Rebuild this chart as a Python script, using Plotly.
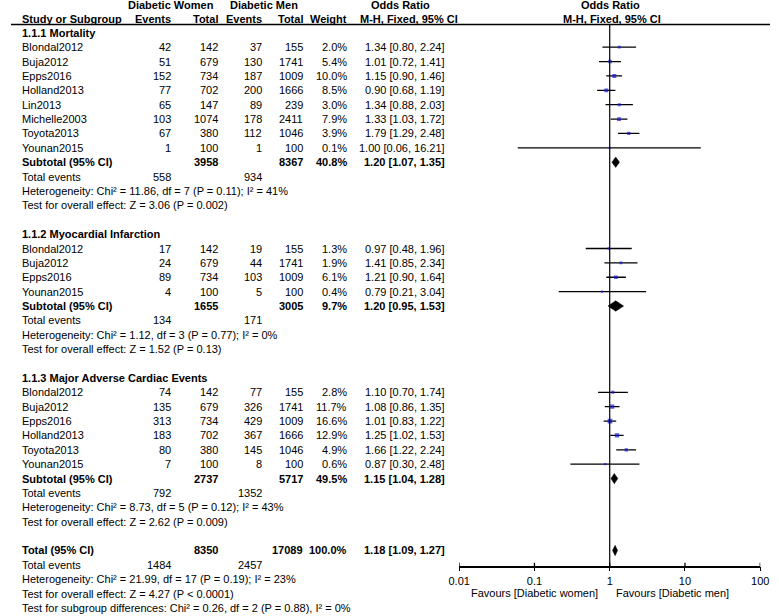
import math
import plotly.graph_objects as go

W, H = 779, 616

# ---------------- data ----------------
mort_study = ["Blondal2012", "Buja2012", "Epps2016", "Holland2013", "Lin2013", "Michelle2003", "Toyota2013", "Younan2015"]
mort_w_events = [42, 51, 152, 77, 65, 103, 67, 1]
mort_w_total = [142, 679, 734, 702, 147, 1074, 380, 100]
mort_m_events = [37, 130, 187, 200, 89, 178, 112, 1]
mort_m_total = [155, 1741, 1009, 1666, 239, 2411, 1046, 100]
mort_weight = [2.0, 5.4, 10.0, 8.5, 3.0, 7.9, 3.9, 0.1]
mort_or = [1.34, 1.01, 1.15, 0.90, 1.34, 1.33, 1.79, 1.00]
mort_lo = [0.80, 0.72, 0.90, 0.68, 0.88, 1.03, 1.29, 0.06]
mort_hi = [2.24, 1.41, 1.46, 1.19, 2.03, 1.72, 2.48, 16.21]
mort_sub = {"w_total": 3958, "m_total": 8367, "weight": 40.8, "or": 1.20, "lo": 1.07, "hi": 1.35,
            "w_ev": 558, "m_ev": 934}
mort_het = "Heterogeneity: Chi² = 11.86, df = 7 (P = 0.11); I² = 41%"
mort_test = "Test for overall effect: Z = 3.06 (P = 0.002)"

mi_study = ["Blondal2012", "Buja2012", "Epps2016", "Younan2015"]
mi_w_events = [17, 24, 89, 4]
mi_w_total = [142, 679, 734, 100]
mi_m_events = [19, 44, 103, 5]
mi_m_total = [155, 1741, 1009, 100]
mi_weight = [1.3, 1.9, 6.1, 0.4]
mi_or = [0.97, 1.41, 1.21, 0.79]
mi_lo = [0.48, 0.85, 0.90, 0.21]
mi_hi = [1.96, 2.34, 1.64, 3.04]
mi_sub = {"w_total": 1655, "m_total": 3005, "weight": 9.7, "or": 1.20, "lo": 0.95, "hi": 1.53,
          "w_ev": 134, "m_ev": 171}
mi_het = "Heterogeneity: Chi² = 1.12, df = 3 (P = 0.77); I² = 0%"
mi_test = "Test for overall effect: Z = 1.52 (P = 0.13)"

mace_study = ["Blondal2012", "Buja2012", "Epps2016", "Holland2013", "Toyota2013", "Younan2015"]
mace_w_events = [74, 135, 313, 183, 80, 7]
mace_w_total = [142, 679, 734, 702, 380, 100]
mace_m_events = [77, 326, 429, 367, 145, 8]
mace_m_total = [155, 1741, 1009, 1666, 1046, 100]
mace_weight = [2.8, 11.7, 16.6, 12.9, 4.9, 0.6]
mace_or = [1.10, 1.08, 1.01, 1.25, 1.66, 0.87]
mace_lo = [0.70, 0.86, 0.83, 1.02, 1.22, 0.30]
mace_hi = [1.74, 1.35, 1.22, 1.53, 2.24, 2.48]
mace_sub = {"w_total": 2737, "m_total": 5717, "weight": 49.5, "or": 1.15, "lo": 1.04, "hi": 1.28,
            "w_ev": 792, "m_ev": 1352}
mace_het = "Heterogeneity: Chi² = 8.73, df = 5 (P = 0.12); I² = 43%"
mace_test = "Test for overall effect: Z = 2.62 (P = 0.009)"

total = {"w_total": 8350, "m_total": 17089, "weight": 100.0, "or": 1.18, "lo": 1.09, "hi": 1.27,
         "w_ev": 1484, "m_ev": 2457}
total_het = "Heterogeneity: Chi² = 21.99, df = 17 (P = 0.19); I² = 23%"
total_test = "Test for overall effect: Z = 4.27 (P < 0.0001)"
subgroup_test = "Test for subgroup differences: Chi² = 0.26, df = 2 (P = 0.88), I² = 0%"

tick_vals = [0.01, 0.1, 1, 10, 100]
tick_text = ["0.01", "0.1", "1", "10", "100"]

sections = [
    ("1.1.1 Mortality", mort_study, mort_w_events, mort_w_total, mort_m_events, mort_m_total,
     mort_weight, mort_or, mort_lo, mort_hi, mort_sub, mort_het, mort_test),
    ("1.1.2 Myocardial Infarction", mi_study, mi_w_events, mi_w_total, mi_m_events, mi_m_total,
     mi_weight, mi_or, mi_lo, mi_hi, mi_sub, mi_het, mi_test),
    ("1.1.3 Major Adverse Cardiac Events", mace_study, mace_w_events, mace_w_total, mace_m_events,
     mace_m_total, mace_weight, mace_or, mace_lo, mace_hi, mace_sub, mace_het, mace_test),
]

# ---------------- layout constants ----------------
Y0, ROW = 32.8, 14.38          # pixel y of row 0, row pitch
FONT = "Liberation Sans, Arial, Helvetica, sans-serif"
FS = 11
NAME_X, WE_X, WT_X, ME_X, MT_X, WGT_X, OR_X = 9, 166, 215, 260, 302, 347, 448
BLUE = "#1414D8"

def r_of_px(px):
    return (px - Y0) / ROW

annotations = []

def txt(xpx, r, s, anchor="right", bold=False, size=FS):
    annotations.append(dict(
        x=xpx / W, xref="paper", y=r, yref="y", text=("<b>%s</b>" % s) if bold else s,
        showarrow=False, xanchor=anchor, yanchor="middle",
        font=dict(family=FONT, size=size, color="#000"), align=anchor))

def fmt_or(o, lo, hi):
    return "%.2f [%.2f, %.2f]" % (o, lo, hi)

# headers
rh1, rh2 = r_of_px(4.8), r_of_px(18.5)
txt(164, rh1, "Diabetic Women", "center", True)
txt(260, rh1, "Diabetic Men", "center", True)
txt(400, rh1, "Odds Ratio", "center", True)
txt(615, rh1, "Odds Ratio", "center", True)
txt(NAME_X, rh2, "Study or Subgroup", "left", True)
txt(WE_X, rh2, "Events", "right", True)
txt(WT_X, rh2, "Total", "right", True)
txt(ME_X, rh2, "Events", "right", True)
txt(MT_X, rh2, "Total", "right", True)
txt(WGT_X, rh2, "Weight", "right", True)
txt(408, rh2, "M-H, Fixed, 95% CI", "center", True)
txt(617, rh2, "M-H, Fixed, 95% CI", "center", True)

ci_x, ci_y = [], []
sq_x, sq_y, sq_s = [], [], []
diamonds = []

r = 0
for (title, st, we, wt, me, mt, wg, o, lo, hi, sub, het, test) in sections:
    txt(NAME_X, r, title, "left", True)
    for i in range(len(st)):
        rr = r + 1 + i
        txt(NAME_X, rr, st[i], "left")
        txt(WE_X, rr, str(we[i]))
        txt(WT_X, rr, str(wt[i]))
        txt(ME_X, rr, str(me[i]))
        txt(MT_X, rr, str(mt[i]))
        txt(WGT_X, rr, "%.1f%%" % wg[i])
        txt(OR_X, rr, fmt_or(o[i], lo[i], hi[i]))
        ci_x += [lo[i], hi[i], None]
        ci_y += [rr, rr, None]
        sq_x.append(o[i]); sq_y.append(rr); sq_s.append(1.8 + 0.7 * math.sqrt(wg[i]))
    rs = r + len(st) + 1
    txt(NAME_X, rs, "Subtotal (95% CI)", "left", True)
    txt(WT_X, rs, str(sub["w_total"]), "right", True)
    txt(MT_X, rs, str(sub["m_total"]), "right", True)
    txt(WGT_X, rs, "%.1f%%" % sub["weight"], "right", True)
    txt(OR_X, rs, fmt_or(sub["or"], sub["lo"], sub["hi"]), "right", True)
    diamonds.append((sub["or"], sub["lo"], sub["hi"], rs))
    txt(NAME_X, rs + 1, "Total events", "left")
    txt(WE_X, rs + 1, str(sub["w_ev"]))
    txt(ME_X, rs + 1, str(sub["m_ev"]))
    txt(NAME_X, rs + 2, het, "left")
    txt(NAME_X, rs + 3, test, "left")
    r = rs + 5

# overall
rt = r
txt(NAME_X, rt, "Total (95% CI)", "left", True)
txt(WT_X, rt, str(total["w_total"]), "right", True)
txt(MT_X, rt, str(total["m_total"]), "right", True)
txt(WGT_X, rt, "%.1f%%" % total["weight"], "right", True)
txt(OR_X, rt, fmt_or(total["or"], total["lo"], total["hi"]), "right", True)
diamonds.append((total["or"], total["lo"], total["hi"], rt))
txt(NAME_X, rt + 1, "Total events", "left")
txt(WE_X, rt + 1, str(total["w_ev"]))
txt(ME_X, rt + 1, str(total["m_ev"]))
txt(NAME_X, rt + 2, total_het, "left")
txt(NAME_X, rt + 3, total_test, "left")
txt(NAME_X, rt + 4, subgroup_test, "left")

AXIS_PX = 566.7
r_axis = r_of_px(AXIS_PX)
r_fav = r_of_px(592.5)
txt(605, r_fav, "Favours [Diabetic women]", "right")
txt(619, r_fav, "Favours [Diabetic men]", "left")

fig = go.Figure()
fig.add_trace(go.Scatter(x=ci_x, y=ci_y, mode="lines", line=dict(color="#000", width=1.3),
                         hoverinfo="skip", showlegend=False))
for (o, lo, hi, rr) in diamonds:
    fig.add_trace(go.Scatter(x=[lo, o, hi, o, lo], y=[rr, rr - 0.36, rr, rr + 0.36, rr],
                             mode="lines", fill="toself", fillcolor="#000",
                             line=dict(color="#000", width=0.5), showlegend=False, hoverinfo="skip"))
fig.add_trace(go.Scatter(x=sq_x, y=sq_y, mode="markers",
                         marker=dict(symbol="square", size=sq_s, color=BLUE, line=dict(width=0)),
                         showlegend=False, hoverinfo="skip"))

r_hline = r_of_px(24.4)
shapes = [
    dict(type="line", xref="paper", yref="y", x0=0, x1=1, y0=r_hline, y1=r_hline,
         line=dict(color="#000", width=1.5)),
    dict(type="line", xref="x", yref="y", x0=1, x1=1, y0=r_hline, y1=r_axis,
         line=dict(color="#000", width=1.2)),
]
for tv in tick_vals:
    shapes.append(dict(type="line", xref="x", yref="y", x0=tv, x1=tv,
                       y0=r_axis, y1=r_axis - 4 / ROW, line=dict(color="#000", width=1.3)))

fig.update_layout(
    width=W, height=H, margin=dict(l=0, r=0, t=0, b=0),
    paper_bgcolor="white", plot_bgcolor="white",
    xaxis=dict(type="log", range=[-2, 2], domain=[460 / W, 769 / W],
               tickvals=tick_vals, ticktext=tick_text, showgrid=False, zeroline=False,
               showline=True, linecolor="#000", linewidth=1.5,
               ticks="outside", ticklen=4, tickwidth=1.3, tickcolor="#000",
               tickfont=dict(family=FONT, size=FS, color="#000"),
               anchor="free", position=1 - AXIS_PX / H),
    yaxis=dict(range=[(H - Y0) / ROW, -Y0 / ROW], visible=False, showgrid=False, zeroline=False),
    annotations=annotations, shapes=shapes, showlegend=False,
)

fig.write_html("out.html", config={"displayModeBar": False},
               post_script="document.body.style.margin='0px';document.body.style.overflow='hidden';")
